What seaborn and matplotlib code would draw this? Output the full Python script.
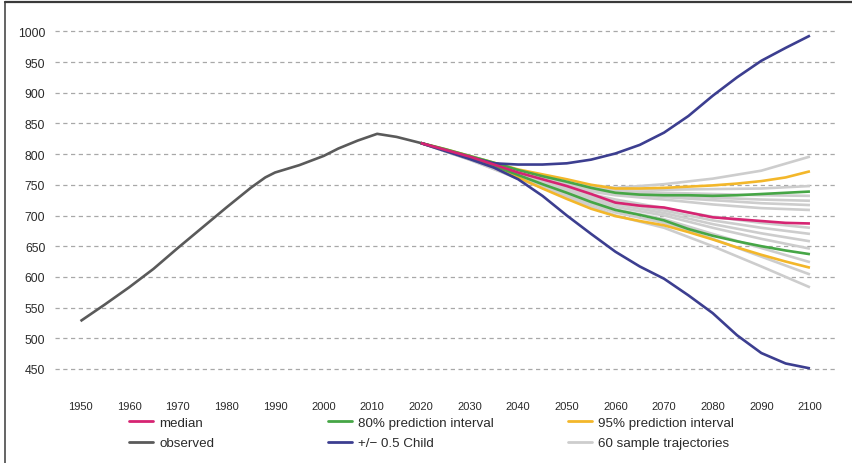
import numpy as np
import pandas as pd
import matplotlib
matplotlib.use("Agg")
import matplotlib.pyplot as plt
from matplotlib.lines import Line2D
import seaborn as sns

# ---------------- data ----------------
obs_years = [1950, 1955, 1960, 1965, 1970, 1975, 1980, 1985, 1988, 1990, 1995, 2000, 2003, 2007, 2011, 2015, 2020]
obs_vals = [528, 555, 583, 613, 647, 680, 713, 745, 762, 770, 782, 797, 809, 822, 833, 828, 818]

years5 = [2020, 2025, 2030, 2035, 2040, 2045, 2050, 2055, 2060, 2065, 2070, 2075, 2080, 2085, 2090, 2095, 2100]
median = [818, 807, 796, 783, 770, 759, 748, 735, 721, 716, 713, 705, 697, 694, 691, 688, 687]
child_hi = [818, 806, 795, 785, 783, 783, 785, 791, 801, 815, 835, 862, 895, 925, 952, 973, 993]
child_lo = [818, 805, 792, 778, 759, 732, 700, 670, 641, 617, 597, 570, 541, 505, 476, 459, 451]
pi80_hi = [818, 808, 797, 786, 774, 764, 755, 745, 737, 734, 733, 733, 732, 733, 735, 737, 739]
pi80_lo = [818, 807, 795, 781, 766, 751, 737, 722, 709, 701, 692, 678, 667, 658, 650, 643, 637]
pi95_hi = [818, 808, 797, 786, 775, 767, 759, 750, 744, 744, 745, 747, 749, 752, 756, 762, 772]
pi95_lo = [818, 806, 794, 779, 762, 744, 727, 711, 699, 691, 684, 673, 661, 648, 636, 625, 615]

years10 = [2020, 2030, 2040, 2050, 2060, 2070, 2080, 2090, 2100]
samples = [
    [818, 794, 769, 752, 745, 751, 760, 773, 796],
    [818, 794, 768, 750, 743, 742, 743, 744, 748],
    [818, 794, 768, 749, 740, 737, 735, 733, 732],
    [818, 794, 767, 748, 738, 733, 729, 726, 724],
    [818, 794, 767, 747, 736, 730, 725, 720, 717],
    [818, 793, 766, 745, 733, 726, 718, 712, 709],
    [818, 793, 765, 743, 726, 712, 698, 688, 680],
    [818, 793, 765, 742, 722, 708, 692, 680, 670],
    [818, 792, 764, 740, 718, 704, 686, 671, 658],
    [818, 792, 763, 738, 714, 700, 680, 662, 646],
    [818, 792, 762, 736, 710, 694, 670, 647, 624],
    [818, 791, 761, 733, 705, 688, 662, 633, 604],
    [818, 791, 760, 730, 700, 680, 650, 617, 583],
]

y_ticks = [450, 500, 550, 600, 650, 700, 750, 800, 850, 900, 950, 1000]
x_ticks = list(range(1950, 2101, 10))

labels = ["median", "observed", "80% prediction interval", "+/\u2212 0.5 Child",
          "95% prediction interval", "60 sample trajectories"]

# ---------------- style ----------------
sns.set_style("white")
plt.rcParams["font.family"] = ["Liberation Sans", "DejaVu Sans"]

C_MED = "#d62472"
C_OBS = "#5a5a5a"
C_80 = "#46a646"
C_95 = "#f3b72a"
C_CHILD = "#3c3e90"
C_GRAY = "#cdcdcd"
LW = 1.9

W, H = 852, 464
fig = plt.figure(figsize=(W / 100, H / 100), dpi=100)
ax = fig.add_axes([55 / W, 1 - 370 / H, (837 - 55) / W, (370 - 32.3) / H])

# gridlines
for v in y_ticks:
    ax.axhline(v, color="#a8a8a8", lw=0.9, dashes=(3.4, 2.8), zorder=0, clip_on=False)

for s in samples:
    sns.lineplot(x=years10, y=s, ax=ax, color=C_GRAY, lw=LW, zorder=2)
sns.lineplot(x=years5, y=pi95_hi, ax=ax, color=C_95, lw=LW, zorder=3)
sns.lineplot(x=years5, y=pi95_lo, ax=ax, color=C_95, lw=LW, zorder=3)
sns.lineplot(x=years5, y=pi80_hi, ax=ax, color=C_80, lw=LW, zorder=4)
sns.lineplot(x=years5, y=pi80_lo, ax=ax, color=C_80, lw=LW, zorder=4)
sns.lineplot(x=years5, y=child_hi, ax=ax, color=C_CHILD, lw=LW, zorder=5)
sns.lineplot(x=years5, y=child_lo, ax=ax, color=C_CHILD, lw=LW, zorder=5)
sns.lineplot(x=years5, y=median, ax=ax, color=C_MED, lw=LW, zorder=6)
sns.lineplot(x=obs_years, y=obs_vals, ax=ax, color=C_OBS, lw=LW, zorder=6)
for ln in ax.get_lines():
    ln.set_clip_on(False)
    ln.set_solid_capstyle("butt")
    ln.set_solid_joinstyle("round")

ax.set_xlim(1944.76, 2105.56)
ax.set_ylim(450, 1000)
ax.set_xticks(x_ticks)
ax.set_xticklabels([str(x) for x in x_ticks], fontsize=8, color="#2a2a2a")
ax.set_yticks(y_ticks)
ax.set_yticklabels([str(v) for v in y_ticks], fontsize=8.8, color="#2a2a2a")
ax.tick_params(axis="x", length=0, pad=23)
ax.tick_params(axis="y", length=0, pad=7)
for sp in ax.spines.values():
    sp.set_visible(False)
ax.set_xlabel("")
ax.set_ylabel("")

# legend (three columns)
cols = [(129, [(C_MED, labels[0]), (C_OBS, labels[1])]),
        (328, [(C_80, labels[2]), (C_CHILD, labels[3])]),
        (568, [(C_95, labels[4]), (C_GRAY, labels[5])])]
for xpx, items in cols:
    hs = [Line2D([], [], color=c, lw=2.0) for c, _ in items]
    ls = [l for _, l in items]
    leg = fig.legend(hs, ls, loc="upper left", bbox_to_anchor=(xpx / W, 1 - 417.5 / H),
                     frameon=False, fontsize=9.6, handlelength=1.8, handletextpad=0.45,
                     borderpad=0, borderaxespad=0, labelspacing=0.62)
    for t in leg.get_texts():
        t.set_color("#2a2a2a")

# figure frame (left and top edges)
fig.add_artist(Line2D([4.5 / W, 4.5 / W], [0, 1 - 2.7 / H], transform=fig.transFigure,
                      color="#3a3a3a", lw=1.1))
fig.add_artist(Line2D([4.5 / W, 1], [1 - 2.7 / H, 1 - 2.7 / H], transform=fig.transFigure,
                      color="#3a3a3a", lw=1.6))

fig.savefig("out.png", dpi=100)
